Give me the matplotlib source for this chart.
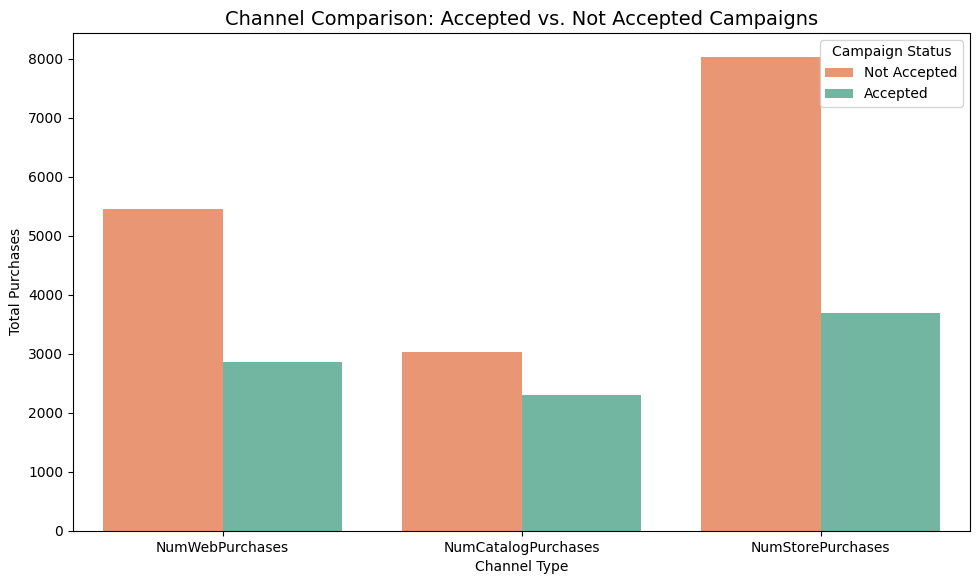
import matplotlib
matplotlib.use("Agg")
import matplotlib.pyplot as plt
import seaborn as sns
import pandas as pd

# totals per purchase channel, split by campaign response
channels = ["NumWebPurchases", "NumCatalogPurchases", "NumStorePurchases"]
not_accepted = [5447, 3024, 8034]
accepted = [2854, 2300, 3685]
status_order = ["Not Accepted", "Accepted"]

df = pd.DataFrame({
    "Channel": channels * 2,
    "Total": not_accepted + accepted,
    "Campaign Status": ["Not Accepted"] * 3 + ["Accepted"] * 3,
})

palette = {"Not Accepted": "#fc8d62", "Accepted": "#66c2a5"}

fig, ax = plt.subplots(figsize=(9.8, 5.84), dpi=100)
sns.barplot(data=df, x="Channel", y="Total", hue="Campaign Status",
            hue_order=status_order, palette=palette, ax=ax)

ax.set_title("Channel Comparison: Accepted vs. Not Accepted Campaigns", fontsize=14)
ax.set_xlabel("Channel Type")
ax.set_ylabel("Total Purchases")
ax.legend(title="Campaign Status", loc="upper right")

fig.subplots_adjust(left=0.0745, right=0.99, top=0.9435, bottom=0.091)
plt.savefig("out.png", dpi=100)
